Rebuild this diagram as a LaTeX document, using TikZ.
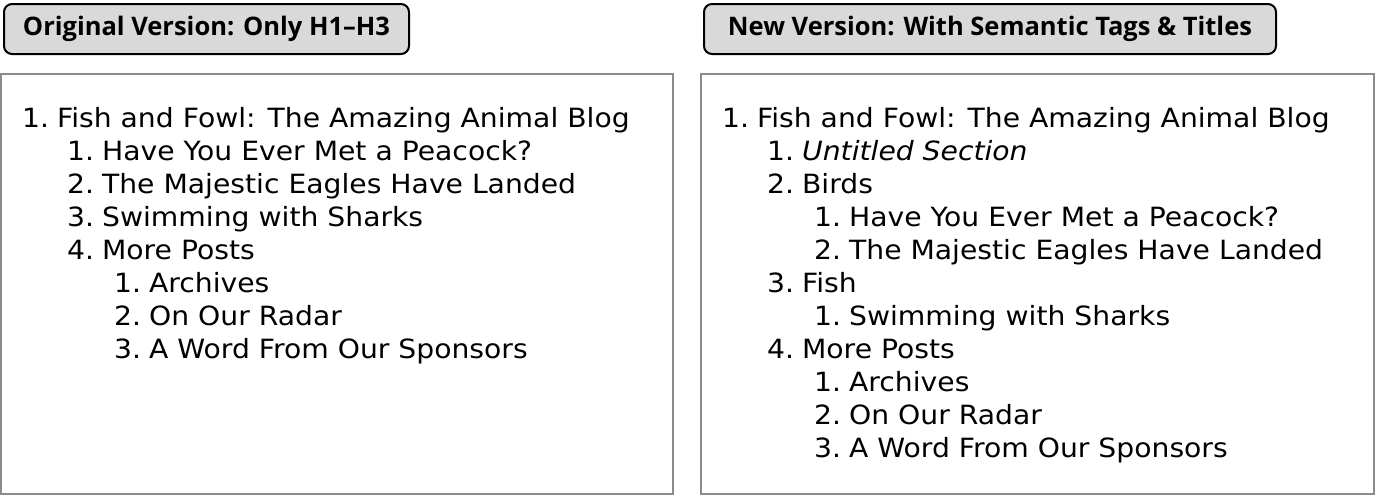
\documentclass[tikz,border=0pt]{standalone}
\usepackage{fontspec}
\setmainfont[FakeStretch=1.065]{DejaVu Sans}
\newfontfamily\tagfont{Open Sans}

\definecolor{TagGray}{HTML}{D9D9D9}
\definecolor{FrameGray}{HTML}{8C8C8C}

\newcommand{\itemno}[1]{#1.\hspace{8pt}}

\tikzset{
	tag/.style={draw=black, line width=2pt, rounded corners=8pt, fill=TagGray, minimum height=50pt, inner sep=0pt, font=\tagfont\bfseries\fontsize{25.5}{25.5}\selectfont},
	panel/.style={draw=FrameGray, line width=2pt, inner sep=0pt},
	entry/.style={anchor=base west, inner sep=0pt, font=\fontsize{26.5}{26.5}\selectfont}
}

\begin{document}
\begin{tikzpicture}[x=1pt,y=-1pt]
			\useasboundingbox (0,0) rectangle (1376,496);
			
			\node[tag, minimum width=405pt] (origtag) at (206.5,29) {Original Version: Only H1–H3};
			\node[tag, minimum width=572pt] (newtag) at (990,29) {New Version: With Semantic Tags \& Titles};
			
			\node[panel, minimum width=672pt, minimum height=420pt] (origpanel) at (337,284) {};
			\node[panel, minimum width=673pt, minimum height=420pt] (newpanel) at (1037.5,284) {};
			
			\node[entry] (o1) at (22,127) {\itemno{1}Fish and Fowl: The Amazing Animal Blog};
			\node[entry] (o11) at (67,160) {\itemno{1}Have You Ever Met a Peacock?};
			\node[entry] (o12) at (67,193) {\itemno{2}The Majestic Eagles Have Landed};
			\node[entry] (o13) at (67,226) {\itemno{3}Swimming with Sharks};
			\node[entry] (o14) at (67,259) {\itemno{4}More Posts};
			\node[entry] (o141) at (114,292) {\itemno{1}Archives};
			\node[entry] (o142) at (114,325) {\itemno{2}On Our Radar};
			\node[entry] (o143) at (114,358) {\itemno{3}A Word From Our Sponsors};
			
			\node[entry] (n1) at (722,127) {\itemno{1}Fish and Fowl: The Amazing Animal Blog};
			\node[entry] (n11) at (767,160) {\itemno{1}\textit{Untitled Section}};
			\node[entry] (n12) at (767,193) {\itemno{2}Birds};
			\node[entry] (n121) at (814,226) {\itemno{1}Have You Ever Met a Peacock?};
			\node[entry] (n122) at (814,259) {\itemno{2}The Majestic Eagles Have Landed};
			\node[entry] (n13) at (767,292) {\itemno{3}Fish};
			\node[entry] (n131) at (814,325) {\itemno{1}Swimming with Sharks};
			\node[entry] (n14) at (767,358) {\itemno{4}More Posts};
			\node[entry] (n141) at (814,391) {\itemno{1}Archives};
			\node[entry] (n142) at (814,424) {\itemno{2}On Our Radar};
			\node[entry] (n143) at (814,457) {\itemno{3}A Word From Our Sponsors};
			
		\end{tikzpicture}
\end{document}
